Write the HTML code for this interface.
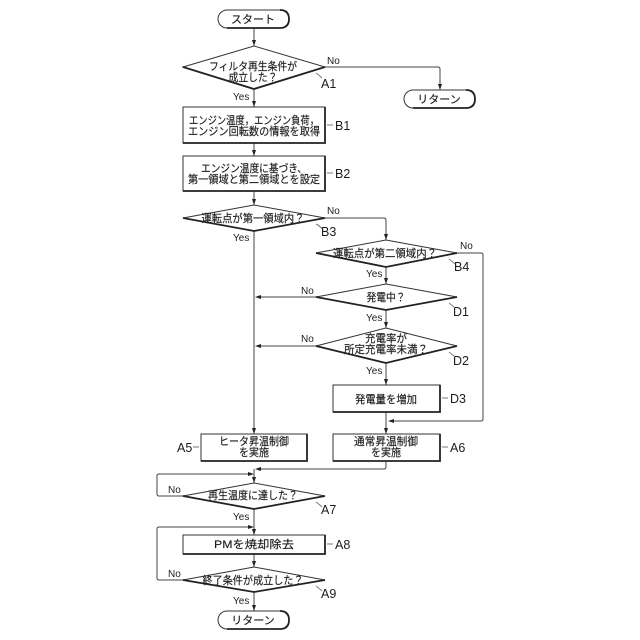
<!DOCTYPE html>
<html>
<head>
<meta charset="utf-8">
<style>
html,body{margin:0;padding:0;background:#fff;width:640px;height:640px;overflow:hidden}
svg{display:block}
text{font-family:"Liberation Sans","Noto Sans CJK JP",sans-serif;fill:#1c1c1c}
.j{font-size:11px;text-anchor:middle;stroke:#1c1c1c;stroke-width:.15}
.y{font-size:10px}
.l{font-size:12.5px}
.s{fill:#fff;stroke:#333;stroke-width:1}
.b{fill:none;stroke:#222;stroke-width:1.8}
.c{fill:none;stroke:#444;stroke-width:1}
.a{fill:#222;stroke:none}
.t{fill:none;stroke:#777;stroke-width:1}
</style>
</head>
<body>
<svg width="640" height="640" viewBox="0 0 640 640" xmlns="http://www.w3.org/2000/svg">
<!-- connectors -->
<path class="c" d="M254 28V46M254 89V107M254 143V156M254 191V205M254 231V434"/>
<path class="c" d="M325 67H438Q440 67 440 69V90"/>
<path class="c" d="M325 218H384Q386 218 386 220V240"/>
<path class="c" d="M386 267V284M386 310V328M386 363V385M386 412V434"/>
<path class="c" d="M457 253H481Q483 253 483 255V419Q483 421 481 421H390"/>
<path class="c" d="M316 297H258M316 346H258"/>
<path class="c" d="M386 461V467Q386 469 384 469H258"/>
<path class="c" d="M183 496H159Q157 496 157 494V476Q157 474 159 474H252"/>
<path class="c" d="M254 469V483M254 509V535M254 554V567M254 592V611"/>
<path class="c" d="M183 580H159Q157 580 157 578V529Q157 527 159 527H252"/>
<!-- arrowheads -->
<g class="a">
<path d="M254 46l-2-6h4z"/><path d="M254 107l-2-6h4z"/><path d="M254 156l-2-6h4z"/><path d="M254 205l-2-6h4z"/><path d="M254 434l-2-6h4z"/>
<path d="M440 90l-2-6h4z"/><path d="M386 240l-2-6h4z"/><path d="M386 284l-2-6h4z"/><path d="M386 328l-2-6h4z"/><path d="M386 385l-2-6h4z"/><path d="M386 434l-2-6h4z"/>
<path d="M388 421l6-2v4z"/><path d="M255 297l6-2v4z"/><path d="M255 346l6-2v4z"/><path d="M255 469l6-2v4z"/>
<path d="M254 474l-6-2v4z"/><path d="M254 527l-6-2v4z"/>
<path d="M254 483l-2-6h4z"/><path d="M254 535l-2-6h4z"/><path d="M254 567l-2-6h4z"/><path d="M254 611l-2-6h4z"/>
</g>
<!-- terminals -->
<rect class="s" x="218" y="10" width="71" height="18" rx="9"/>
<path class="b" d="M280 28H227"/><path class="b" d="M280 10Q289 10 289 19Q289 28 280 28"/>
<rect class="s" x="404" y="90" width="71" height="18" rx="9"/>
<path class="b" d="M466 108H413"/><path class="b" d="M466 90Q475 90 475 99Q475 108 466 108"/>
<rect class="s" x="218" y="611" width="71" height="18" rx="9"/>
<path class="b" d="M280 629H227"/><path class="b" d="M280 611Q289 611 289 620Q289 629 280 629"/>
<!-- diamonds -->
<path class="s" d="M183 67L254 46L325 67L254 89Z"/><path class="b" d="M183 67L254 89L325 67"/>
<path class="s" d="M183 218L254 205L325 218L254 231Z"/><path class="b" d="M183 218L254 231L325 218"/>
<path class="s" d="M316 253L386 240L457 253L386 267Z"/><path class="b" d="M316 253L386 267L457 253"/>
<path class="s" d="M316 297L386 284L457 297L386 310Z"/><path class="b" d="M316 297L386 310L457 297"/>
<path class="s" d="M316 346L386 328L457 346L386 363Z"/><path class="b" d="M316 346L386 363L457 346"/>
<path class="s" d="M183 496L254 483L325 496L254 509Z"/><path class="b" d="M183 496L254 509L325 496"/>
<path class="s" d="M183 580L254 567L325 580L254 592Z"/><path class="b" d="M183 580L254 592L325 580"/>
<!-- boxes -->
<rect class="s" x="183" y="107" width="142" height="36"/><path class="b" d="M183 143H325V107"/>
<rect class="s" x="183" y="156" width="142" height="35"/><path class="b" d="M183 191H325V156"/>
<rect class="s" x="333" y="385" width="107" height="27"/><path class="b" d="M333 412H440V385"/>
<rect class="s" x="201" y="434" width="106" height="27"/><path class="b" d="M201 461H307V434"/>
<rect class="s" x="333" y="434" width="107" height="27"/><path class="b" d="M333 461H440V434"/>
<rect class="s" x="183" y="535" width="142" height="19"/><path class="b" d="M183 554H325V535"/>
<!-- node text -->
<text class="j" x="253" y="23">スタート</text>
<text class="j" x="439" y="103">リターン</text>
<text class="j" x="253" y="624">リターン</text>
<text class="j" x="253" y="70" textLength="88" lengthAdjust="spacingAndGlyphs">フィルタ再生条件が</text>
<text class="j" x="253" y="81" textLength="49" lengthAdjust="spacingAndGlyphs">成立した？</text>
<text class="j" x="254" y="124" textLength="130" lengthAdjust="spacingAndGlyphs">エンジン温度，エンジン負荷，</text>
<text class="j" x="254" y="135" textLength="132" lengthAdjust="spacingAndGlyphs">エンジン回転数の情報を取得</text>
<text class="j" x="254" y="172" textLength="106" lengthAdjust="spacingAndGlyphs">エンジン温度に基づき、</text>
<text class="j" x="254" y="183" textLength="132" lengthAdjust="spacingAndGlyphs">第一領域と第二領域とを設定</text>
<text class="j" x="253" y="222" textLength="103" lengthAdjust="spacingAndGlyphs">運転点が第一領域内？</text>
<text class="j" x="385" y="257" textLength="104" lengthAdjust="spacingAndGlyphs">運転点が第二領域内？</text>
<text class="j" x="386" y="301" textLength="39" lengthAdjust="spacingAndGlyphs">発電中？</text>
<text class="j" x="386" y="342" textLength="42" lengthAdjust="spacingAndGlyphs">充電率が</text>
<text class="j" x="386" y="353" textLength="84" lengthAdjust="spacingAndGlyphs">所定充電率未満？</text>
<text class="j" x="386" y="403" textLength="62" lengthAdjust="spacingAndGlyphs">発電量を増加</text>
<text class="j" x="254" y="445" textLength="70" lengthAdjust="spacingAndGlyphs">ヒータ昇温制御</text>
<text class="j" x="254" y="456" textLength="30" lengthAdjust="spacingAndGlyphs">を実施</text>
<text class="j" x="386" y="445" textLength="64" lengthAdjust="spacingAndGlyphs">通常昇温制御</text>
<text class="j" x="386" y="456" textLength="30" lengthAdjust="spacingAndGlyphs">を実施</text>
<text class="j" x="253" y="499" textLength="90" lengthAdjust="spacingAndGlyphs">再生温度に達した？</text>
<text class="j" x="254" y="548" textLength="80" lengthAdjust="spacingAndGlyphs">PMを焼却除去</text>
<text class="j" x="253" y="584" textLength="101" lengthAdjust="spacingAndGlyphs">終了条件が成立した？</text>
<!-- yes/no -->
<text class="y" x="327" y="64">No</text>
<text class="y" x="233" y="100">Yes</text>
<text class="y" x="327" y="214">No</text>
<text class="y" x="233" y="241">Yes</text>
<text class="y" x="460" y="249">No</text>
<text class="y" x="366" y="277">Yes</text>
<text class="y" x="301" y="294">No</text>
<text class="y" x="366" y="321">Yes</text>
<text class="y" x="301" y="342">No</text>
<text class="y" x="366" y="374">Yes</text>
<text class="y" x="168" y="493">No</text>
<text class="y" x="233" y="520">Yes</text>
<text class="y" x="168" y="577">No</text>
<text class="y" x="233" y="604">Yes</text>
<!-- reference labels -->
<text class="l" x="321" y="88">A1</text>
<text class="l" x="335" y="130">B1</text>
<text class="l" x="335" y="178">B2</text>
<text class="l" x="321" y="236">B3</text>
<text class="l" x="454" y="271">B4</text>
<text class="l" x="453" y="316">D1</text>
<text class="l" x="453" y="365">D2</text>
<text class="l" x="450" y="403">D3</text>
<text class="l" x="177" y="452">A5</text>
<text class="l" x="450" y="452">A6</text>
<text class="l" x="321" y="514">A7</text>
<text class="l" x="335" y="549">A8</text>
<text class="l" x="321" y="598">A9</text>
<!-- leader ticks -->
<path class="t" d="M316 73Q320 76 322 78M333 125H327M333 173H327M316 224Q320 226 322 229M449 259Q453 262 455 264M449 303Q453 306 455 308M449 352Q453 355 455 357M448 398H442M193 447H199M448 447H442M316 502Q320 505 322 507M333 544H327M316 586Q320 589 322 591"/>
</svg>
</body>
</html>
